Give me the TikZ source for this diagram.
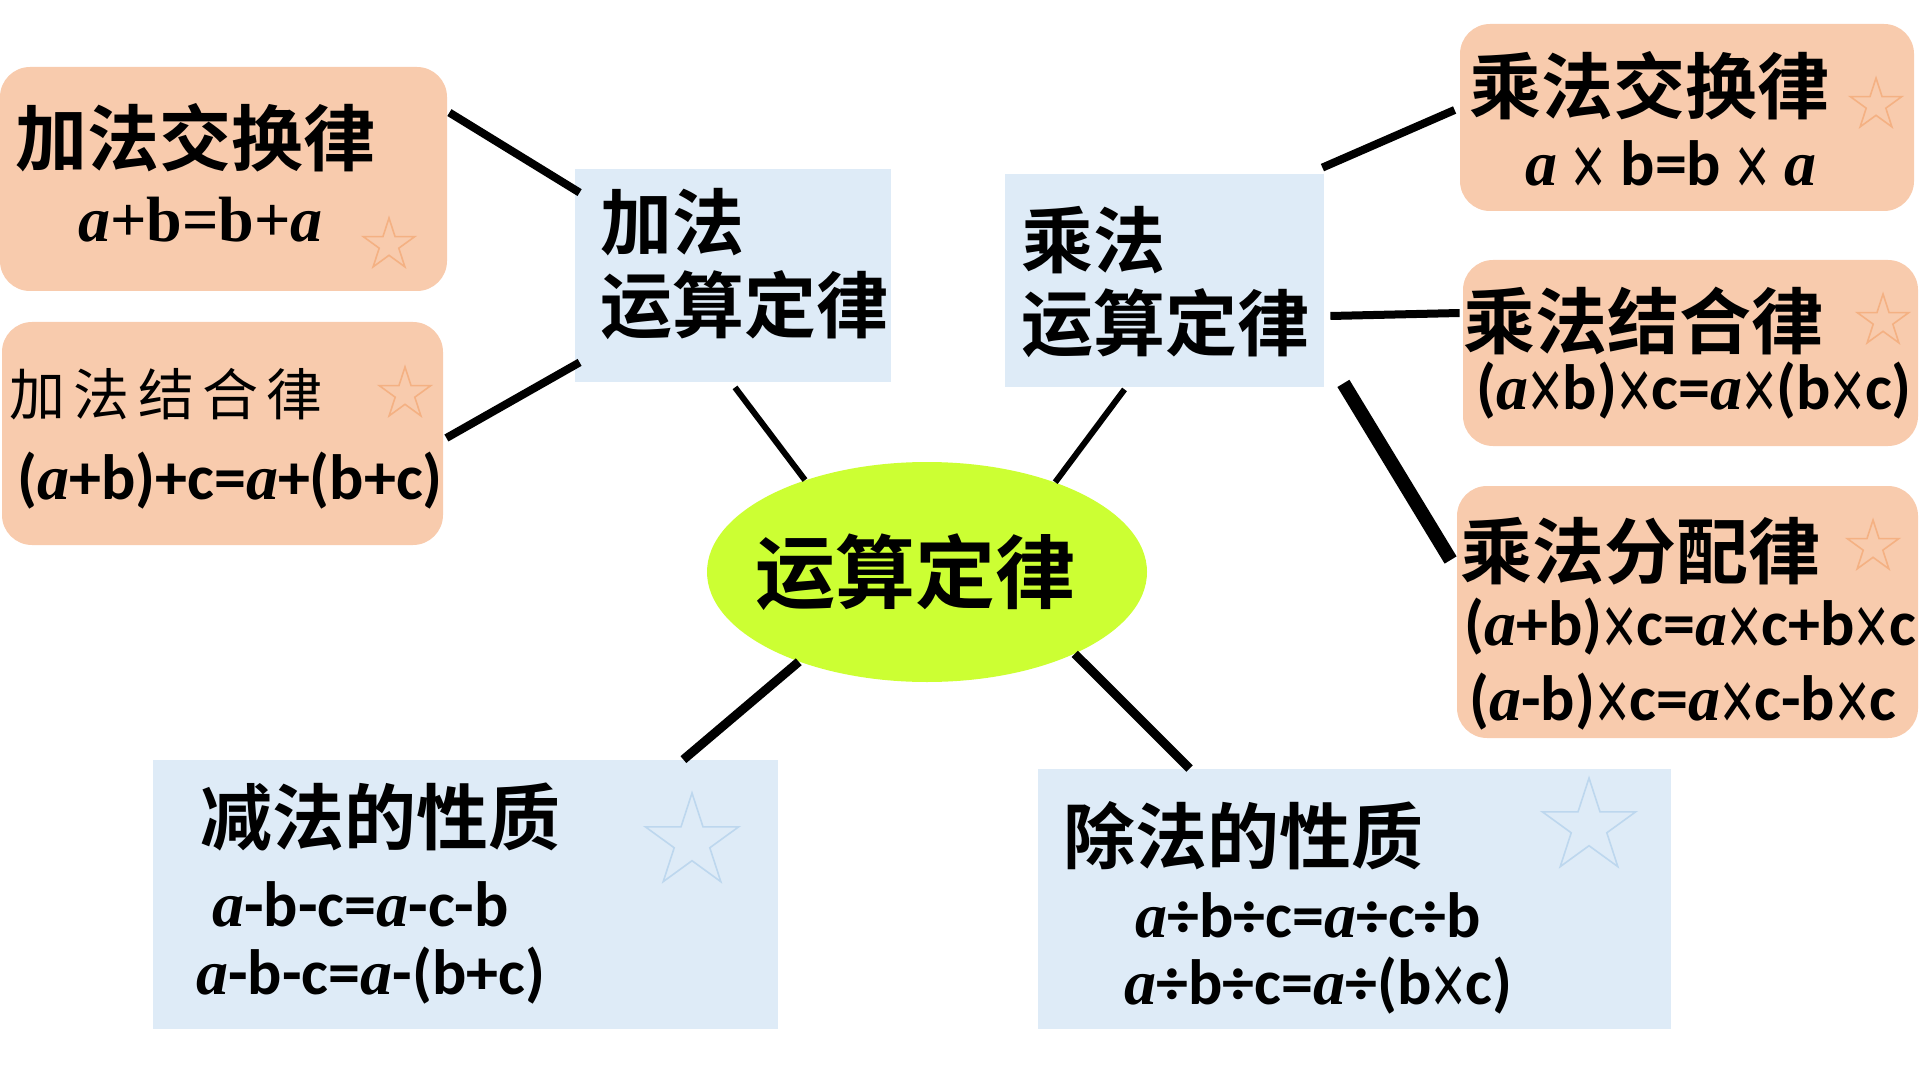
\documentclass[tikz,border=0pt]{standalone}
\usepackage{fontspec}
\usepackage{graphicx}
\setmainfont{Carlito}
\newfontfamily\cjk{Noto Sans CJK SC}[BoldFont={Noto Sans CJK SC Bold}]
\newfontfamily\tnr{Liberation Serif}
\newfontfamily\arl{Liberation Sans}
\usetikzlibrary{calc,shapes.geometric}

\definecolor{peach}{HTML}{F8CBAD}
\definecolor{peachline}{HTML}{F4B183}
\definecolor{paleblue}{HTML}{DEEBF7}
\definecolor{blueline}{HTML}{BDD7EE}
\definecolor{lime}{HTML}{CCFF33}

\newcommand{\va}{{\tnr\itshape a}}
\newcommand{\vab}{{\tnr\bfseries\itshape a}}
\newcommand{\tms}{{\arl\mdseries\raisebox{-0.15em}{\scalebox{0.92}[1.35]{×}}}}

\begin{document}
\begin{tikzpicture}[
    x=0.5pt, y=-0.5pt,
    peach box/.style={fill=peach, rounded corners=15pt, inner sep=0pt},
    blue box/.style={fill=paleblue, inner sep=0pt},
    hub/.style={ellipse, fill=lime, inner sep=-9pt, minimum width=220pt, minimum height=110pt,
        font=\cjk\bfseries\fontsize{40pt}{46pt}\selectfont},
    title/.style={anchor=west, inner sep=0pt, font=\cjk\bfseries\fontsize{36pt}{41.5pt}\selectfont},
    eq/.style={anchor=west, inner sep=0pt, font=\bfseries\fontsize{32pt}{38pt}\selectfont},
    small star/.style={star, star points=5, star point ratio=2.618, minimum size=27pt,
        inner sep=0pt, line width=0.8pt},
    big star/.style={small star, minimum size=49pt},
    link/.style={line width=4pt}
]

% SAME BOUNDING BOX
\path[use as bounding box] (0,0) rectangle (1920,1080);

% boxes
\node[peach box, minimum width=223.5pt, minimum height=112pt] (jhj) at (223.5,179) {};
\node[peach box, minimum width=220.5pt, minimum height=111.5pt] (jjh) at (222.5,433.5) {};
\node[blue box, minimum width=158pt, minimum height=106.5pt] (jf) at (733,275.5) {};
\node[blue box, minimum width=159.5pt, minimum height=106.5pt] (cf) at (1164.5,280.5) {};
\node[peach box, minimum width=227pt, minimum height=93.5pt] (chj) at (1687,117.5) {};
\node[peach box, minimum width=227.5pt, minimum height=93pt] (cjh) at (1690.5,353) {};
\node[peach box, minimum width=230.5pt, minimum height=126pt] (cfp) at (1687.5,612) {};
\node[blue box, minimum width=312.5pt, minimum height=134.5pt] (jianf) at (465.5,894.5) {};
\node[blue box, minimum width=316.5pt, minimum height=130pt] (chuf) at (1354.5,899) {};
\node[hub] (law) at (927,572) {运算定律\hspace*{12pt}};

% stars
\node[small star, draw=peachline] (s1) at (389,245) {};
\node[small star, draw=peachline] (s2) at (405,394) {};
\node[small star, draw=peachline] (s3) at (1876,105) {};
\node[small star, draw=peachline] (s4) at (1883,321) {};
\node[small star, draw=peachline] (s5) at (1873,547) {};
\node[big star, draw=blueline] (s6) at (692,842) {};
\node[big star, draw=blueline] (s7) at (1589,827) {};

% texts
\node[title] (t1) at (15,138) {加法交换律};
\node[eq, font=\tnr\bfseries\fontsize{32pt}{38pt}\selectfont] (e1) at (78,220) {\vab+b=b+\vab};
\node[title, font=\cjk\fontsize{28pt}{34pt}\selectfont\addfontfeature{LetterSpace=15}] (t2) at (9,394) {加法结合律};
\node[eq] (e2) at (17,481) {(\va+b)+c=\va+(b+c)};
\node[title, align=left] (t3) at (600,264.5) {加法\\运算定律};
\node[title, align=left] (t4) at (1021,282.5) {乘法\\运算定律};
\node[title] (t5) at (1469,86) {乘法交换律};
\node[eq] (e5) at (1525,168) {\va{} \tms{} b=b \tms{} \va};
\node[title] (t6) at (1463,321) {乘法结合律};
\node[eq] (e6) at (1476,391) {(\va\tms b)\tms c=\va\tms(b\tms c)};
\node[title] (t7) at (1460,551) {乘法分配律};
\node[eq] (e7) at (1464,627) {(\va+b)\tms c=\va\tms c+b\tms c};
\node[eq] (e8) at (1469,702) {(\va-b)\tms c=\va\tms c-b\tms c};
\node[title] (t9) at (200,817) {减法的性质};
\node[eq] (e9) at (212,904) {\va-b-c=\va-c-b};
\node[eq] (e10) at (196,976) {\va-b-c=\va-(b+c)};
\node[title] (t11) at (1063,836) {除法的性质};
\node[eq] (e11) at (1135,915) {\va÷b÷c=\va÷c÷b};
\node[eq] (e12) at (1124,986) {\va÷b÷c=\va÷(b\tms c)};

% links
\draw[link] ([shift={(2,46)}]jhj.north east) -- ([shift={(5,24)}]jf.north west);
\draw[link] ([shift={(3,4.5)}]jjh.east) -- ([shift={(5,-20)}]jf.south west);
\draw[link, line width=3pt] ([shift={(2,5)}]jf.south) -- (law.143);
\draw[link, line width=3pt] ([shift={(-40,2)}]cf.south) -- (law.35);
\draw[link] ([shift={(-2,-6)}]cf.north east) -- ([shift={(-5,-7.5)}]chj.west);
\draw[link] ([shift={(6,35.5)}]cf.east) -- ([shift={(-3,-40)}]cjh.west);
\draw[link, line width=7pt] ([shift={(19,-4)}]cf.south east) -- ([shift={(-6,-52)}]cfp.west);
\draw[link, line width=4.5pt] (law.215) -- ([shift={(-95,0)}]jianf.north east);
\draw[link, line width=4.5pt] (law.-29) -- ([shift={(152,0)}]chuf.north west);

\end{tikzpicture}
\end{document}
